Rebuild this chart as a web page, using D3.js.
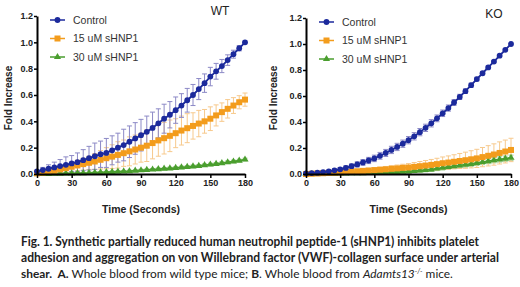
<!DOCTYPE html>
<html>
<head>
  <script src="https://d3js.org/d3.v7.min.js"></script>
  <style>
    body { margin: 0; background: #fff; }
  </style>
</head>
<body>
  <div id="chart"></div>
  <script>
    // time points (seconds)
    const times = [0,5,10,15,20,25,30,35,40,45,50,55,60,65,70,75,80,85,90,95,100,105,110,115,120,125,130,135,140,145,150,155,160,165,170,175,180];
    const xTicks = [0, 30, 60, 90, 120, 150, 180];
    const yTicks = [0, 0.2, 0.4, 0.6, 0.8, 1.0, 1.2];
    const seriesNames = ["Control", "15 uM sHNP1", "30 uM sHNP1"];

    // WT panel
    const wtControl = [0.02,0.03,0.04,0.05,0.06,0.07,0.08,0.09,0.105,0.12,0.135,0.15,0.16,0.18,0.2,0.22,0.245,0.27,0.295,0.32,0.35,0.385,0.42,0.45,0.485,0.52,0.56,0.6,0.645,0.69,0.74,0.78,0.82,0.865,0.91,0.955,1.0];
    const wtControlErr = [0.01,0.02,0.03,0.04,0.05,0.06,0.06,0.07,0.08,0.09,0.1,0.1,0.11,0.11,0.11,0.12,0.12,0.12,0.12,0.12,0.12,0.11,0.11,0.1,0.1,0.09,0.09,0.08,0.08,0.07,0.07,0.06,0.05,0.04,0.03,0.02,0.01];
    const wt15 = [0.005,0.01,0.02,0.025,0.035,0.045,0.055,0.065,0.075,0.085,0.095,0.108,0.12,0.132,0.145,0.158,0.172,0.186,0.2,0.215,0.235,0.255,0.272,0.29,0.31,0.33,0.348,0.365,0.383,0.4,0.42,0.445,0.47,0.495,0.52,0.545,0.565];
    const wt15Err = [0.005,0.01,0.015,0.02,0.025,0.03,0.035,0.04,0.045,0.05,0.06,0.07,0.08,0.09,0.1,0.1,0.11,0.11,0.11,0.12,0.12,0.12,0.12,0.12,0.11,0.11,0.11,0.1,0.1,0.09,0.09,0.08,0.07,0.07,0.06,0.05,0.05];
    const wt30 = [0,0,0,0.002,0.003,0.004,0.005,0.006,0.007,0.008,0.01,0.012,0.014,0.016,0.018,0.02,0.022,0.025,0.028,0.031,0.034,0.037,0.04,0.043,0.046,0.05,0.054,0.058,0.062,0.067,0.072,0.077,0.083,0.089,0.095,0.102,0.11];
    const wt30Err = [0,0,0,0.002,0.002,0.003,0.003,0.004,0.004,0.005,0.005,0.005,0.006,0.006,0.006,0.007,0.007,0.007,0.008,0.008,0.008,0.009,0.009,0.009,0.01,0.01,0.01,0.01,0.01,0.01,0.01,0.01,0.01,0.01,0.01,0.01,0.01];

    // KO panel
    const koControl = [0.005,0.007,0.01,0.015,0.02,0.028,0.036,0.047,0.06,0.074,0.089,0.104,0.12,0.14,0.162,0.185,0.208,0.233,0.26,0.29,0.322,0.355,0.39,0.428,0.467,0.507,0.55,0.593,0.637,0.683,0.73,0.775,0.82,0.865,0.91,0.955,1.0];
    const koControlErr = [0.005,0.005,0.006,0.008,0.01,0.012,0.014,0.016,0.018,0.02,0.022,0.024,0.025,0.026,0.027,0.028,0.028,0.028,0.028,0.028,0.028,0.028,0.028,0.026,0.025,0.024,0.022,0.02,0.018,0.016,0.014,0.012,0.01,0.008,0.006,0.005,0.005];
    const ko15 = [0,0.002,0.004,0.006,0.008,0.01,0.012,0.015,0.018,0.021,0.024,0.027,0.03,0.033,0.036,0.04,0.043,0.047,0.05,0.055,0.06,0.065,0.07,0.076,0.083,0.088,0.094,0.1,0.106,0.113,0.12,0.13,0.14,0.15,0.162,0.173,0.185];
    const ko15Err = [0.002,0.003,0.004,0.005,0.006,0.007,0.008,0.009,0.01,0.012,0.014,0.016,0.018,0.02,0.022,0.024,0.026,0.028,0.03,0.033,0.036,0.039,0.042,0.045,0.048,0.051,0.054,0.058,0.062,0.066,0.07,0.074,0.078,0.082,0.085,0.088,0.09];
    const ko30 = [0,0,0,0.001,0.002,0.003,0.004,0.005,0.006,0.007,0.007,0.008,0.008,0.01,0.012,0.014,0.016,0.018,0.02,0.024,0.028,0.032,0.036,0.042,0.048,0.054,0.06,0.066,0.072,0.078,0.085,0.092,0.099,0.106,0.112,0.118,0.125];
    const ko30Err = [0,0,0,0.002,0.002,0.003,0.003,0.004,0.004,0.005,0.005,0.006,0.006,0.007,0.008,0.009,0.01,0.011,0.012,0.013,0.014,0.015,0.016,0.016,0.017,0.017,0.018,0.018,0.019,0.019,0.02,0.02,0.02,0.02,0.02,0.02,0.02];

    const colors = ["#1c2a9c", "#f39c1c", "#4a9e2e"];
    const errColors = ["#8c89c6", "#f7c98c", "#9ccb8a"];
    const sans = "'Liberation Sans', Arial, sans-serif";
    const capFont = "Lato, 'Open Sans', sans-serif";

    const svg = d3.select("#chart").append("svg")
      .attr("width", 520).attr("height", 287);

    const panels = [
      { title: "WT", titleX: 220, titleY: 15, left: 37, right: 245, top: 16, bottom: 174, yLabelX: 12, legX: 50,
        series: [[wtControl, wtControlErr], [wt15, wt15Err], [wt30, wt30Err]] },
      { title: "KO", titleX: 494, titleY: 18, left: 306, right: 511, top: 18, bottom: 174, yLabelX: 277, legX: 319,
        series: [[koControl, koControlErr], [ko15, ko15Err], [ko30, ko30Err]] }
    ];

    function drawMarker(g, kind, x, y, color) {
      if (kind === 0) {
        g.append("circle").attr("cx", x).attr("cy", y).attr("r", 2.9).attr("fill", color);
      } else if (kind === 1) {
        g.append("rect").attr("x", x - 3).attr("y", y - 3).attr("width", 6).attr("height", 6).attr("fill", color);
      } else {
        g.append("path").attr("d", d3.symbol(d3.symbolTriangle, 22)()).attr("transform", `translate(${x},${y})`).attr("fill", color);
      }
    }

    panels.forEach(p => {
      const x = d3.scaleLinear().domain([0, 180]).range([p.left, p.right]);
      const y = d3.scaleLinear().domain([0, 1.2]).range([p.bottom, p.top]);
      const g = svg.append("g");

      // error bars first, series in reverse so control sits on top
      [2, 1, 0].forEach(si => {
        const [vals, errs] = p.series[si];
        const eg = g.append("g").attr("stroke", errColors[si]).attr("stroke-width", 1);
        times.forEach((t, i) => {
          const cx = x(t);
          const hi = y(vals[i] + errs[i]), lo = y(Math.max(0, vals[i] - errs[i]));
          eg.append("line").attr("x1", cx).attr("x2", cx).attr("y1", hi).attr("y2", lo);
          eg.append("line").attr("x1", cx - 2.5).attr("x2", cx + 2.5).attr("y1", hi).attr("y2", hi);
          eg.append("line").attr("x1", cx - 2.5).attr("x2", cx + 2.5).attr("y1", lo).attr("y2", lo);
        });
      });

      [2, 1, 0].forEach(si => {
        const vals = p.series[si][0];
        const line = d3.line().x((d, i) => x(times[i])).y(d => y(d));
        g.append("path").datum(vals).attr("fill", "none").attr("stroke", colors[si])
          .attr("stroke-width", 1.8).attr("d", line);
        const mg = g.append("g");
        vals.forEach((v, i) => drawMarker(mg, si, x(times[i]), y(v), colors[si]));
      });

      // axes
      const yAxis = g.append("g").attr("transform", `translate(${p.left},0)`)
        .call(d3.axisLeft(y).tickValues(yTicks).tickFormat(d3.format(".1f")).tickSize(3).tickSizeOuter(0));
      const xAxis = g.append("g").attr("transform", `translate(0,${p.bottom})`)
        .call(d3.axisBottom(x).tickValues(xTicks).tickSize(4).tickSizeOuter(0));
      [yAxis, xAxis].forEach(a => {
        a.select(".domain").attr("stroke", "#000").attr("stroke-width", 2);
        a.selectAll(".tick line").attr("stroke", "#000").attr("stroke-width", 1.5);
        a.selectAll(".tick text").attr("font-size", 9).attr("font-weight", "bold").attr("fill", "#222")
          .attr("font-family", sans);
      });
      yAxis.selectAll(".tick text").attr("x", -4);
      xAxis.selectAll(".tick text").attr("y", 6);

      g.append("text").attr("x", (p.left + p.right) / 2).attr("y", 213)
        .attr("text-anchor", "middle").attr("font-size", 10.5).attr("font-weight", "bold")
        .attr("font-family", sans).attr("fill", "#222").text("Time (Seconds)");
      g.append("text").attr("transform", `translate(${p.yLabelX},${98}) rotate(-90)`)
        .attr("text-anchor", "middle").attr("font-size", 10).attr("font-weight", "bold")
        .attr("font-family", sans).attr("fill", "#222").text("Fold Increase");
      g.append("text").attr("x", p.titleX).attr("y", p.titleY).attr("text-anchor", "middle")
        .attr("font-size", 12).attr("font-family", sans).attr("fill", "#222").text(p.title);

      // legend
      seriesNames.forEach((name, si) => {
        const ly = p.top + 4 + si * 18.5;
        g.append("line").attr("x1", p.legX).attr("x2", p.legX + 15).attr("y1", ly).attr("y2", ly)
          .attr("stroke", colors[si]).attr("stroke-width", 1.5);
        drawMarker(g, si, p.legX + 7.5, ly, colors[si]);
        g.append("text").attr("x", p.legX + 23).attr("y", ly + 3.8).attr("font-size", 10.5)
          .attr("font-family", sans).attr("fill", "#333").text(name);
      });
    });

    // caption
    const cap = svg.append("g").attr("fill", "#222");
    cap.append("text").attr("x", 21).attr("y", 246).attr("font-size", 12.5).attr("font-weight", "bold")
      .attr("font-family", capFont)
      .attr("textLength", 458).attr("lengthAdjust", "spacingAndGlyphs")
      .text("Fig. 1. Synthetic partially reduced human neutrophil peptide-1 (sHNP1) inhibits platelet");
    cap.append("text").attr("x", 21).attr("y", 262).attr("font-size", 12.5).attr("font-weight", "bold")
      .attr("font-family", capFont)
      .attr("textLength", 478).attr("lengthAdjust", "spacingAndGlyphs")
      .text("adhesion and aggregation on von Willebrand factor (VWF)-collagen surface under arterial");
    const l3 = cap.append("text").attr("x", 21).attr("y", 278).attr("font-size", 11.9).attr("font-family", capFont)
      .attr("xml:space", "preserve");
    l3.append("tspan").attr("font-weight", "bold").text("shear.  A.");
    l3.append("tspan").text(" Whole blood from wild type mice; ");
    l3.append("tspan").attr("font-weight", "bold").text("B");
    l3.append("tspan").text(". Whole blood from ");
    l3.append("tspan").attr("font-style", "italic").text("Adamts13");
    l3.append("tspan").attr("font-style", "italic").attr("font-size", 7).attr("dy", -4).text("-/-");
    l3.append("tspan").attr("dy", 4).text(" mice.");
  </script>
</body>
</html>
